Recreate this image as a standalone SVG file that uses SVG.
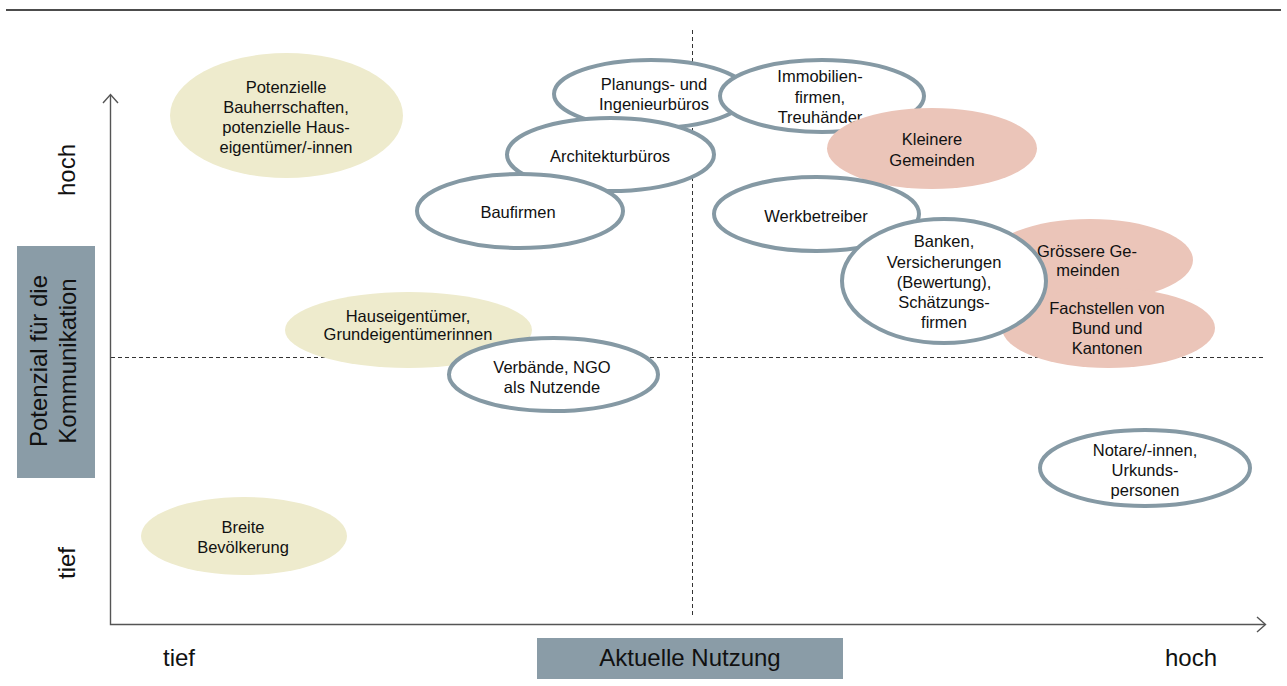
<svg xmlns="http://www.w3.org/2000/svg" width="1287" height="686" viewBox="0 0 1287 686">
<style>
  .t { font-family: "Liberation Sans", Arial, sans-serif; font-size: 16.5px; fill: #111; text-anchor: middle; }
  .big { font-family: "Liberation Sans", Arial, sans-serif; font-size: 24px; fill: #111; text-anchor: middle; }
  .o { fill: #ffffff; stroke: #8599a4; stroke-width: 4; }
  .y { fill: #eeebcd; }
  .p { fill: #ebc5b9; }
  .dash { stroke: #333; stroke-width: 1; stroke-dasharray: 4 3; fill: none; }
  .axis { stroke: #555; stroke-width: 1.4; fill: none; }
  .box { fill: #8a9ca7; }
</style>
<rect width="1287" height="686" fill="#ffffff"/>
<line x1="6" y1="10" x2="1281" y2="10" stroke="#111" stroke-width="1.3"/>

<g id="axes">
  <line class="dash" x1="692.5" y1="30" x2="692.5" y2="617"/>
  <line class="dash" x1="111" y1="357.5" x2="1265" y2="357.5"/>
  <polyline class="axis" points="110.5,95 110.5,624.5 1265,624.5"/>
  <polyline class="axis" points="103,103 110.5,94.5 118,103"/>
  <polyline class="axis" points="1257,617 1265.5,624.5 1257,632"/>
</g>

<g id="y-labels">
  <text class="big" transform="translate(75,170) rotate(-90)">hoch</text>
  <text class="big" transform="translate(75,563) rotate(-90)">tief</text>
  <rect class="box" x="17" y="246" width="78" height="232"/>
  <text class="big" transform="translate(47,361) rotate(-90)">Potenzial für die</text>
  <text class="big" transform="translate(76,361) rotate(-90)">Kommunikation</text>
</g>

<g id="x-labels">
  <text class="big" x="179" y="666">tief</text>
  <rect class="box" x="537" y="638" width="306" height="41"/>
  <text class="big" x="690" y="666">Aktuelle Nutzung</text>
  <text class="big" x="1191" y="666">hoch</text>
</g>

<g id="n-potenzielle">
  <ellipse class="y" cx="286.5" cy="115.5" rx="116.5" ry="62.5"/>
  <text class="t" x="286" y="92.5">Potenzielle</text>
  <text class="t" x="286" y="112.5">Bauherrschaften,</text>
  <text class="t" x="286" y="132.5">potenzielle Haus-</text>
  <text class="t" x="286" y="152.5">eigentümer/-innen</text>
</g>

<g id="n-planungs">
  <ellipse class="o" cx="651" cy="94" rx="97" ry="34"/>
  <text class="t" x="654" y="89.5">Planungs- und</text>
  <text class="t" x="654" y="110">Ingenieurbüros</text>
</g>

<g id="n-immobilien">
  <ellipse class="o" cx="822" cy="96" rx="102" ry="36"/>
  <text class="t" x="820" y="82">Immobilien-</text>
  <text class="t" x="820" y="102.5">firmen,</text>
  <text class="t" x="820" y="123">Treuhänder</text>
</g>

<g id="n-kleinere">
  <ellipse class="p" cx="932" cy="148.5" rx="105" ry="40.5"/>
  <text class="t" x="932" y="145">Kleinere</text>
  <text class="t" x="932" y="165.5">Gemeinden</text>
</g>

<g id="n-architektur">
  <ellipse class="o" cx="610.5" cy="154.5" rx="103.5" ry="36.5"/>
  <text class="t" x="610" y="162">Architekturbüros</text>
</g>

<g id="n-baufirmen">
  <ellipse class="o" cx="520" cy="211" rx="103" ry="37"/>
  <text class="t" x="518" y="218">Baufirmen</text>
</g>

<g id="n-werkbetreiber">
  <ellipse class="o" cx="816.5" cy="214" rx="102.5" ry="37"/>
  <text class="t" x="816" y="222">Werkbetreiber</text>
</g>

<g id="n-groessere">
  <ellipse class="p" cx="1090" cy="260" rx="103" ry="41"/>
  <text class="t" x="1087" y="257">Grössere Ge-</text>
  <text class="t" x="1088" y="276">meinden</text>
</g>

<g id="n-fachstellen">
  <ellipse class="p" cx="1108.5" cy="328" rx="106.5" ry="40"/>
  <text class="t" x="1107" y="314">Fachstellen von</text>
  <text class="t" x="1107" y="334">Bund und</text>
  <text class="t" x="1107" y="354">Kantonen</text>
</g>

<g id="n-banken">
  <ellipse class="o" cx="944" cy="281" rx="102" ry="62"/>
  <text class="t" x="944" y="247">Banken,</text>
  <text class="t" x="944" y="267.5">Versicherungen</text>
  <text class="t" x="944" y="288">(Bewertung),</text>
  <text class="t" x="944" y="308">Schätzungs-</text>
  <text class="t" x="944" y="328">firmen</text>
</g>

<g id="n-hauseigentuemer">
  <ellipse class="y" cx="408.5" cy="330" rx="123.5" ry="38"/>
  <text class="t" x="408" y="322">Hauseigentümer,</text>
  <text class="t" x="408" y="340">Grundeigentümerinnen</text>
</g>

<g id="n-verbaende">
  <ellipse class="o" cx="553.5" cy="374.5" rx="104.5" ry="36.5"/>
  <text class="t" x="552" y="373">Verbände, NGO</text>
  <text class="t" x="552" y="392.5">als Nutzende</text>
</g>

<g id="n-notare">
  <ellipse class="o" cx="1145" cy="468" rx="105" ry="38"/>
  <text class="t" x="1145" y="456">Notare/-innen,</text>
  <text class="t" x="1145" y="476">Urkunds-</text>
  <text class="t" x="1145" y="496">personen</text>
</g>

<g id="n-breite">
  <ellipse class="y" cx="244" cy="536" rx="103" ry="39"/>
  <text class="t" x="243" y="533">Breite</text>
  <text class="t" x="243" y="553">Bevölkerung</text>
</g>
</svg>
